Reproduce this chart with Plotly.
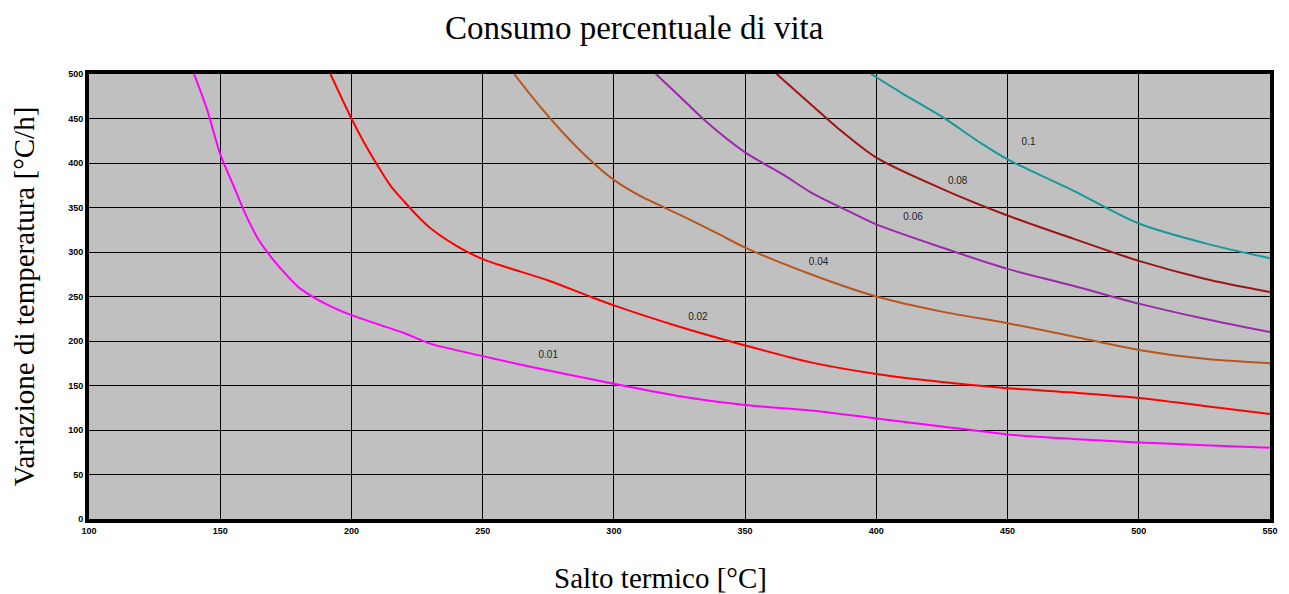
import plotly.graph_objects as go

# Curve data: x = Salto termico [°C], y = Variazione di temperatura [°C/h]
x_001 = [140, 145, 150, 155, 160, 165, 170, 175, 180, 190, 200, 210, 220, 230, 250, 270, 300, 325, 350, 375, 400, 425, 450, 475, 500, 525, 550]
y_001 = [500, 460, 410, 375, 340, 312, 292, 275, 260, 242, 229, 219, 209, 197, 183, 170, 152, 138, 128, 122, 113, 104, 95, 90, 86, 83, 80]

x_002 = [192, 200, 205, 210, 215, 220, 225, 230, 240, 250, 260, 275, 290, 300, 325, 350, 375, 400, 425, 450, 475, 500, 525, 550]
y_002 = [500, 450, 422, 397, 374, 357, 341, 327, 307, 292, 282, 268, 251, 240, 216, 195, 176, 163, 154, 147, 142, 136, 127, 118]

x_004 = [262, 270, 280, 290, 300, 310, 325, 340, 350, 375, 400, 425, 450, 475, 500, 525, 550]
y_004 = [500, 470, 436, 406, 381, 363, 342, 320, 305, 275, 250, 233, 220, 205, 190, 180, 175]

x_006 = [316, 325, 335, 350, 365, 375, 390, 400, 425, 450, 475, 500, 525, 550]
y_006 = [500, 475, 447, 412, 386, 367, 345, 331, 305, 281, 262, 242, 225, 210]

x_008 = [362, 375, 385, 400, 425, 450, 475, 500, 525, 550]
y_008 = [500, 466, 440, 406, 371, 341, 315, 290, 270, 255]

x_010 = [398, 410, 425, 440, 450, 475, 500, 525, 550]
y_010 = [500, 478, 452, 422, 404, 369, 332, 310, 293]

series_names = ["0.01", "0.02", "0.04", "0.06", "0.08", "0.1"]
series_colors = ["#FF00FF", "#FF0000", "#B8561E", "#9A2AA8", "#9E1414", "#17999A"]
series_x = [x_001, x_002, x_004, x_006, x_008, x_010]
series_y = [y_001, y_002, y_004, y_006, y_008, y_010]

label_x = [275, 332, 378, 414, 431, 458]
label_y = [184, 226, 288, 339, 379, 423]

x_ticks = [100, 150, 200, 250, 300, 350, 400, 450, 500, 550]
y_ticks = [0, 50, 100, 150, 200, 250, 300, 350, 400, 450, 500]

fig = go.Figure()
for name, color, xs, ys in zip(series_names, series_colors, series_x, series_y):
    fig.add_trace(go.Scatter(x=xs, y=ys, mode="lines", name=name,
                             line=dict(color=color, width=2, shape="spline", smoothing=0.8),
                             showlegend=False))

fig.add_trace(go.Scatter(x=label_x, y=label_y, mode="text", text=series_names,
                         textfont=dict(family="Arial", size=10, color="#222222"),
                         showlegend=False))

serif = "Liberation Serif, Times New Roman, serif"
tickfont = dict(family="Liberation Sans, Arial", size=9, color="black")
fig.update_layout(
    width=1289, height=594,
    margin=dict(l=89, r=19, t=74, b=75),
    paper_bgcolor="white",
    plot_bgcolor="#C0C0C0",
    title=dict(text="Consumo percentuale di vita", x=0.492, xanchor="center",
               y=0.953, yanchor="middle",
               font=dict(family=serif, size=33, color="black")),
    xaxis=dict(range=[100, 550], tickvals=x_ticks, ticktext=["<b>%d</b>" % v for v in x_ticks],
               showgrid=True, gridcolor="black", gridwidth=1,
               showline=True, linecolor="black", linewidth=4, mirror=True,
               ticks="", zeroline=False, tickfont=tickfont),
    yaxis=dict(range=[0, 500], tickvals=y_ticks, ticktext=["<b>%d</b>" % v for v in y_ticks],
               showgrid=True, gridcolor="black", gridwidth=1,
               showline=True, linecolor="black", linewidth=4, mirror=True,
               ticks="", zeroline=False, tickfont=tickfont,
               title=dict(text="Variazione di temperatura [°C/h]",
                          font=dict(family=serif, size=29, color="black"), standoff=26)),
    annotations=[dict(text="Salto termico [°C]", xref="paper", yref="paper",
                      x=0.4835, y=-0.133, xanchor="center", yanchor="middle",
                      showarrow=False, font=dict(family=serif, size=29, color="black"))],
)

fig.write_html("out.html")
